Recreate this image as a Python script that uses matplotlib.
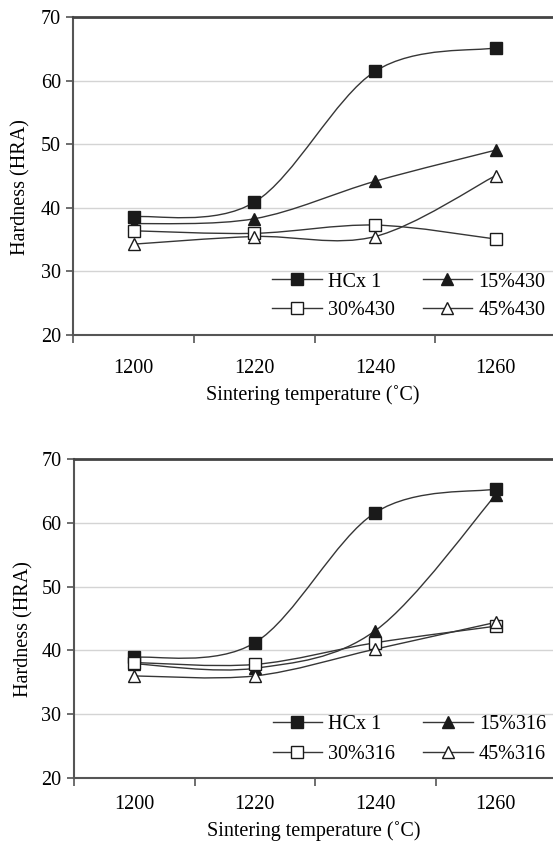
import numpy as np
import matplotlib
matplotlib.use('Agg')
import matplotlib.pyplot as plt
from matplotlib.path import Path
from matplotlib.patches import PathPatch
from matplotlib.lines import Line2D

plt.rcParams['font.family'] = ['Liberation Serif', 'DejaVu Serif']

temps = ['1200', '1220', '1240', '1260']

# top panel (430 additions)
hcx_top = [38.6, 40.9, 61.5, 65.2]
p15_430 = [37.5, 38.3, 44.2, 49.1]
p30_430 = [36.4, 36.0, 37.3, 35.1]
p45_430 = [34.3, 35.5, 35.5, 45.1]

# bottom panel (316 additions)
hcx_bot = [38.9, 41.2, 61.6, 65.3]
p15_316 = [37.9, 37.2, 43.1, 64.4]
p30_316 = [38.1, 37.8, 41.2, 43.8]
p45_316 = [36.0, 36.0, 40.2, 44.4]

LINE = '#363636'
SPINE = '#555555'
FS = 14.5


def smooth_path(x, y):
    # excel-like smoothed line: catmull-rom turned into bezier segments
    pts = np.column_stack([x, y]).astype(float)
    n = len(pts)
    verts = [pts[0]]
    codes = [Path.MOVETO]
    for i in range(n - 1):
        p0 = pts[max(i - 1, 0)]
        p1 = pts[i]
        p2 = pts[i + 1]
        p3 = pts[min(i + 2, n - 1)]
        verts += [p1 + (p2 - p0) / 6, p2 - (p3 - p1) / 6, p2]
        codes += [Path.CURVE4] * 3
    return Path(verts, codes)


def panel(ax, series, labels, tickpad, ylab_xy, leg_y, leg_sp):
    x = np.arange(len(temps))
    styles = [('s', '#1a1a1a'), ('^', '#1a1a1a'), ('s', 'white'), ('^', 'white')]
    handles = []
    for ys, (m, fc), lab in zip(series, styles, labels):
        ax.add_patch(PathPatch(smooth_path(x, ys), fill=False, ec=LINE, lw=1.0, zorder=3))
        ms = 8 if m == 's' else 9
        ax.plot(x, ys, ls='none', marker=m, ms=ms, mfc=fc, mec='#1a1a1a', mew=1.0, zorder=4)
        handles.append(Line2D([], [], color=LINE, lw=1.0, marker=m, ms=ms, mfc=fc,
                              mec='#1a1a1a', mew=1.0))
    ax.set_xlim(-0.5, 3.474)
    ax.set_ylim(20, 70)
    ax.set_yticks([20, 30, 40, 50, 60, 70])
    ax.set_xticks(x)
    ax.set_xticklabels(temps)
    ax.set_xticks(np.arange(-0.5, 3.0, 1.0), minor=True)
    ax.tick_params(axis='x', which='major', length=0, pad=tickpad, labelsize=FS)
    ax.tick_params(axis='x', which='minor', length=6, width=1.2, color=SPINE, direction='out')
    ax.tick_params(axis='y', length=5, width=1.2, color=SPINE, pad=4, labelsize=FS)
    ax.grid(axis='y', color='#d4d4d4', lw=1.0, zorder=0)
    ax.set_axisbelow(True)
    for s in ['left', 'bottom']:
        ax.spines[s].set_color(SPINE)
        ax.spines[s].set_linewidth(1.5)
    ax.spines['top'].set_color('#444444')
    ax.spines['top'].set_linewidth(2.0)
    ax.spines['right'].set_visible(False)
    ax.set_xlabel('Sintering temperature (˚C)', fontsize=FS, labelpad=5)
    ax.set_ylabel('Hardness (HRA)', fontsize=FS)
    ax.yaxis.set_label_coords(*ylab_xy)
    order = [0, 2, 1, 3]
    ax.legend([handles[i] for i in order], [labels[i] for i in order], ncol=2,
              frameon=False, fontsize=FS, loc='upper left',
              bbox_to_anchor=(0.4147, leg_y), borderpad=0, borderaxespad=0,
              handlelength=2.46, handletextpad=0.31, columnspacing=1.37,
              labelspacing=leg_sp)


fig = plt.figure(figsize=(5.53, 8.44), dpi=100)
ax1 = fig.add_axes([73.4 / 553, 1 - 335 / 844, 1 - 73.4 / 553, 317.7 / 844])
ax2 = fig.add_axes([74.0 / 553, 1 - 778 / 844, 1 - 74.0 / 553, 319 / 844])

panel(ax1, [hcx_top, p15_430, p30_430, p45_430], ['HCx 1', '15%430', '30%430', '45%430'],
      17.5, (-0.0894, 0.466), 0.197, 0.45)
panel(ax2, [hcx_bot, p15_316, p30_316, p45_316], ['HCx 1', '15%316', '30%316', '45%316'],
      12.0, (-0.0856, 0.4655), 0.199, 0.55)

fig.savefig('out.png', dpi=100)
